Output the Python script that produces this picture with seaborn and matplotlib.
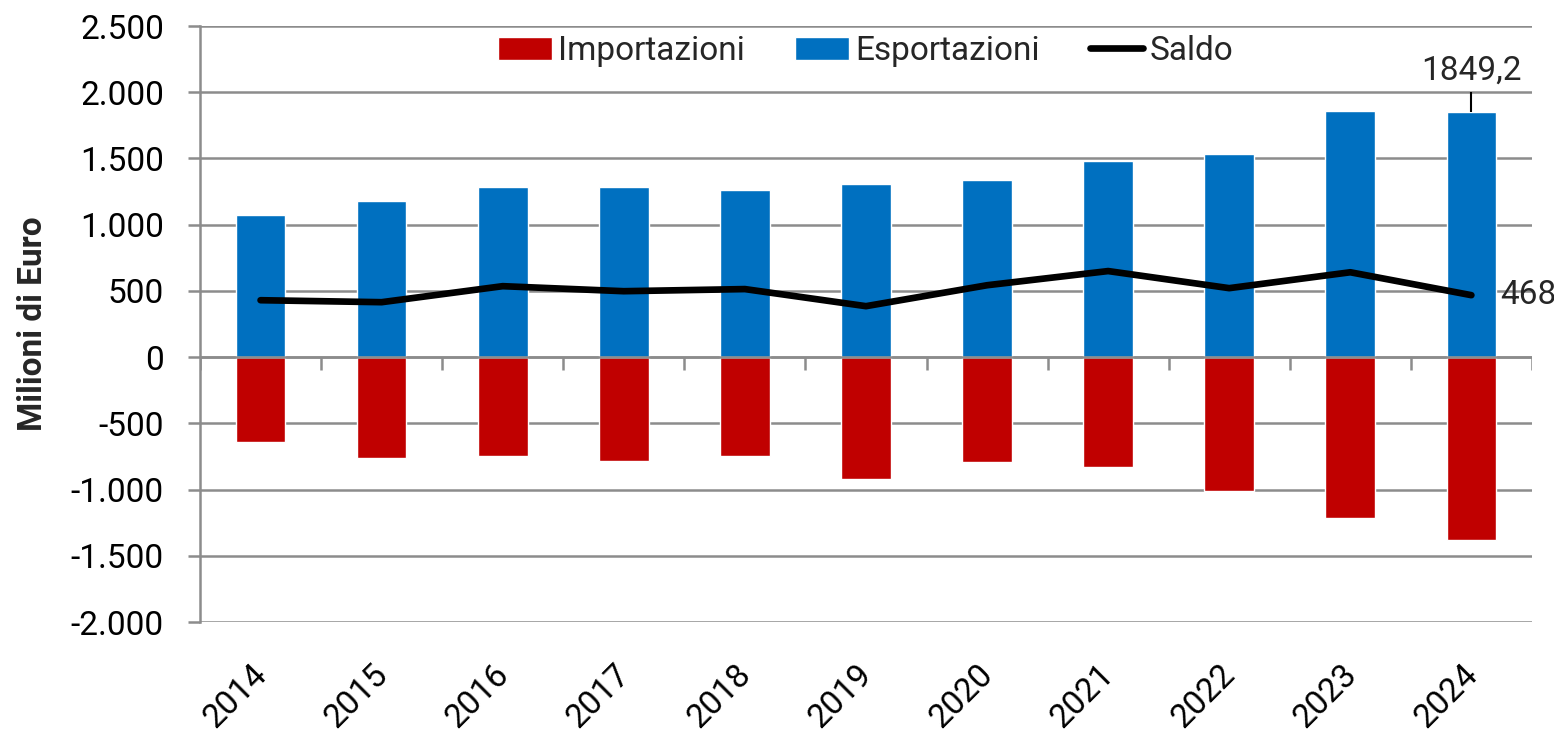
import numpy as np
import pandas as pd
import matplotlib
matplotlib.use("Agg")
import matplotlib.pyplot as plt
import matplotlib.transforms as mtransforms
from matplotlib.ticker import FuncFormatter, MultipleLocator
import seaborn as sns

# data (milioni di euro)
years = ["2014", "2015", "2016", "2017", "2018", "2019",
         "2020", "2021", "2022", "2023", "2024"]
importazioni = [-642, -763, -747, -785, -747, -921, -793, -830, -1012, -1216, -1382]
esportazioni = [1072, 1178, 1283, 1283, 1261, 1306, 1336, 1480, 1533, 1857, 1849.2]
saldo = [430, 415, 536, 498, 514, 385, 543, 650, 521, 641, 468]

red = "#C00000"
blue = "#0070C0"
grey = "#8C8C8C"

sns.set_theme(style="white")
plt.rcParams["font.family"] = ["Roboto", "DejaVu Sans"]

df = pd.DataFrame({"anno": years, "imp": importazioni, "exp": esportazioni, "saldo": saldo})

fig, ax = plt.subplots(figsize=(15.54, 7.31), dpi=100)
fig.subplots_adjust(left=0.1287, right=0.9858, top=0.9644, bottom=0.149)

# grid behind everything
ax.set_axisbelow(True)
ax.yaxis.grid(True, color=grey, linewidth=1.8)

sns.barplot(data=df, x="anno", y="imp", color=red, width=0.41, saturation=1,
            label="Importazioni", ax=ax, zorder=2)
sns.barplot(data=df, x="anno", y="exp", color=blue, width=0.41, saturation=1,
            label="Esportazioni", ax=ax, zorder=2)
sns.lineplot(x=np.arange(len(years)), y=df["saldo"], color="black", linewidth=4.8,
             label="Saldo", ax=ax, zorder=3, solid_capstyle="round")

ax.set_xlim(-0.5, len(years) - 0.5)
ax.set_ylim(-2000, 2500)
ax.yaxis.set_major_locator(MultipleLocator(500))
ax.yaxis.set_major_formatter(FuncFormatter(lambda v, p: f"{int(v):,}".replace(",", ".")))

for s in ["top", "right", "bottom"]:
    ax.spines[s].set_visible(False)
ax.spines["left"].set_color(grey)
ax.spines["left"].set_linewidth(1.8)

# x axis line at zero with tick marks between categories
ax.axhline(0, color=grey, linewidth=1.8, zorder=2.5)
bounds = np.arange(len(years) + 1) - 0.5
ax.vlines(bounds, 0, -98, color=grey, linewidth=1.8, zorder=2.5)

ax.tick_params(axis="y", direction="out", length=9, width=1.8, color=grey,
               pad=17, labelsize=24, labelcolor="black", left=True)
ax.tick_params(axis="x", length=0, pad=26, labelsize=24, labelcolor="black")
shift = mtransforms.ScaledTranslation(-10 / 100, 0, fig.dpi_scale_trans)
for lab in ax.get_xticklabels():
    lab.set_rotation(45)
    lab.set_ha("right")
    lab.set_va("top")
    lab.set_rotation_mode("anchor")
    lab.set_transform(lab.get_transform() + shift)

ax.set_xlabel("")
ax.set_ylabel("Milioni di Euro", fontsize=24, fontweight="bold", labelpad=16)

# labels on the last year
last = len(years) - 1
ax.vlines(last, esportazioni[-1], 2000, color="black", linewidth=1.5, zorder=3)
ax.text(last, 2160, "1849,2", ha="center", va="center", fontsize=24)
ax.annotate("468", xy=(last, saldo[-1]), xytext=(21, 0), textcoords="offset points",
            ha="left", va="center", fontsize=24)

handles, labels = ax.get_legend_handles_labels()
order = [labels.index(n) for n in ["Importazioni", "Esportazioni", "Saldo"]]
ax.legend([handles[i] for i in order], [labels[i] for i in order],
          loc="upper center", bbox_to_anchor=(0.5, 1.035), ncol=3, frameon=False,
          fontsize=24, handlelength=1.6, handletextpad=0.2, columnspacing=1.5)

fig.savefig("out.png", dpi=100)
